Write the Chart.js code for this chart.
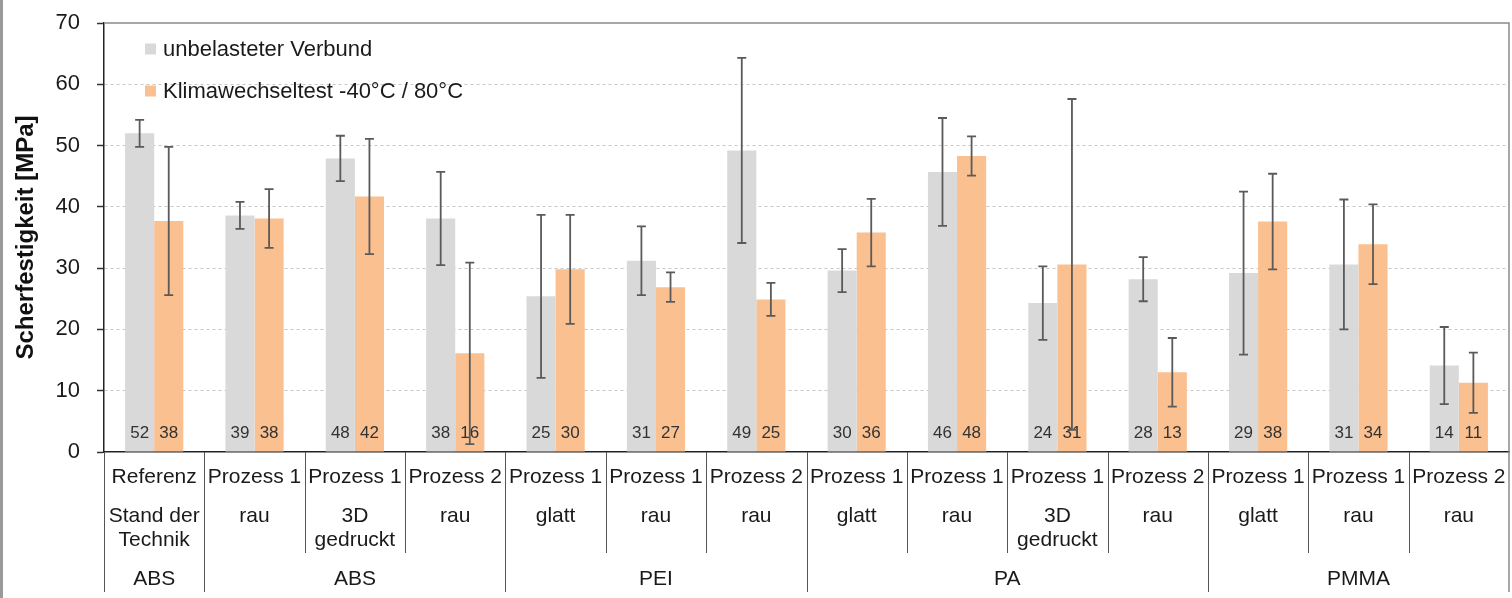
<!DOCTYPE html>
<html>
<head>
<meta charset="utf-8">
<script src="https://cdn.jsdelivr.net/npm/chart.js@4.4.1/dist/chart.umd.min.js"></script>
<style>
  html, body { margin: 0; padding: 0; background: #fff; }
  #wrap { width: 1512px; height: 598px; position: relative; }
</style>
</head>
<body>
<div id="wrap"><canvas id="myChart" width="1512" height="598"></canvas></div>
<script>
// Daten
const processLabels = ['Referenz', 'Prozess 1', 'Prozess 1', 'Prozess 2', 'Prozess 1', 'Prozess 1', 'Prozess 2',
                       'Prozess 1', 'Prozess 1', 'Prozess 1', 'Prozess 2', 'Prozess 1', 'Prozess 1', 'Prozess 2'];
const surfaceLabels = [['Stand der', 'Technik'], ['rau'], ['3D', 'gedruckt'], ['rau'], ['glatt'], ['rau'], ['rau'],
                       ['glatt'], ['rau'], ['3D', 'gedruckt'], ['rau'], ['glatt'], ['rau'], ['rau']];
const materialGroups = [
  { label: 'ABS', from: 0, to: 0 },
  { label: 'ABS', from: 1, to: 3 },
  { label: 'PEI', from: 4, to: 6 },
  { label: 'PA', from: 7, to: 10 },
  { label: 'PMMA', from: 11, to: 13 }
];
const seriesNames = ['unbelasteter Verbund', 'Klimawechseltest -40°C / 80°C'];
const unbelastet = [52.0, 38.6, 47.9, 38.1, 25.4, 31.2, 49.2, 29.6, 45.7, 24.3, 28.2, 29.2, 30.6, 14.1];
const unbelastetErr = [2.2, 2.2, 3.7, 7.6, 13.3, 5.6, 15.1, 3.5, 8.8, 6.0, 3.6, 13.3, 10.6, 6.3];
const klimawechsel = [37.7, 38.1, 41.7, 16.1, 29.8, 26.9, 24.9, 35.8, 48.3, 30.6, 13.0, 37.6, 33.9, 11.3];
const klimawechselErr = [12.1, 4.8, 9.4, 14.8, 8.9, 2.4, 2.7, 5.5, 3.2, 27.0, 5.6, 7.8, 6.5, 4.9];
const yTicks = [0, 10, 20, 30, 40, 50, 60, 70];

const FONT = '"Liberation Sans", Arial, sans-serif';
const errors = [unbelastetErr, klimawechselErr];

// Fehlerbalken und Werte an der Basis der Balken
const barExtras = {
  id: 'barExtras',
  afterDatasetsDraw(chart) {
    const ctx = chart.ctx;
    const y = chart.scales.y;
    chart.data.datasets.forEach((ds, d) => {
      const meta = chart.getDatasetMeta(d);
      meta.data.forEach((bar, i) => {
        const v = ds.data[i];
        ctx.save();
        ctx.fillStyle = '#333';
        ctx.font = '17px ' + FONT;
        ctx.textAlign = 'center';
        ctx.textBaseline = 'middle';
        ctx.fillText(String(Math.round(v)), bar.x, 433);
        ctx.restore();

        const e = errors[d][i];
        const yHi = y.getPixelForValue(v + e);
        const yLo = y.getPixelForValue(Math.max(0, v - e));
        ctx.save();
        ctx.strokeStyle = '#5a5a5a';
        ctx.lineWidth = 1.8;
        ctx.beginPath();
        ctx.moveTo(bar.x, yHi); ctx.lineTo(bar.x, yLo);
        ctx.moveTo(bar.x - 4.5, yHi); ctx.lineTo(bar.x + 4.5, yHi);
        ctx.moveTo(bar.x - 4.5, yLo); ctx.lineTo(bar.x + 4.5, yLo);
        ctx.stroke();
        ctx.restore();
      });
    });
  }
};

// Rahmen, Legende und mehrzeilige Achsenbeschriftung
const frameAndTable = {
  id: 'frameAndTable',
  beforeDraw(chart) {
    const ctx = chart.ctx;
    ctx.save();
    ctx.fillStyle = '#fff';
    ctx.fillRect(0, 0, chart.width, chart.height);
    ctx.strokeStyle = '#9a9a9a';
    ctx.lineWidth = 3;
    ctx.beginPath();
    ctx.moveTo(1.5, 0); ctx.lineTo(1.5, chart.height);
    ctx.stroke();
    ctx.restore();
  },
  afterDraw(chart) {
    const ctx = chart.ctx;
    const area = chart.chartArea;
    const n = processLabels.length;
    const step = (area.right - area.left) / n;
    const tableBottom = 592;
    const innerBottom = 553;

    ctx.save();
    // oberer und rechter Rand
    ctx.strokeStyle = '#8a8a8a';
    ctx.lineWidth = 1.5;
    ctx.beginPath();
    ctx.moveTo(area.left, area.top); ctx.lineTo(area.right, area.top);
    ctx.lineTo(area.right, tableBottom);
    ctx.stroke();

    // Trennlinien
    const groupStarts = materialGroups.map(g => g.from).concat([n]);
    ctx.strokeStyle = '#555';
    ctx.lineWidth = 1;
    for (let i = 0; i < n; i++) {
      const xb = Math.round(area.left + i * step) + 0.5;
      ctx.beginPath();
      ctx.moveTo(xb, area.bottom);
      ctx.lineTo(xb, groupStarts.includes(i) ? tableBottom : innerBottom);
      ctx.stroke();
    }

    // Beschriftungen
    ctx.fillStyle = '#1a1a1a';
    ctx.font = '21px ' + FONT;
    ctx.textAlign = 'center';
    ctx.textBaseline = 'middle';
    for (let i = 0; i < n; i++) {
      const xc = chart.scales.x.getPixelForValue(i);
      ctx.fillText(processLabels[i], xc, 477);
      surfaceLabels[i].forEach((line, k) => ctx.fillText(line, xc, 516 + k * 24));
    }
    materialGroups.forEach(g => {
      const xc = area.left + ((g.from + g.to + 1) / 2) * step;
      ctx.fillText(g.label, xc, 579);
    });

    // Legende
    ctx.font = '22px ' + FONT;
    ctx.textAlign = 'left';
    chart.data.datasets.forEach((ds, d) => {
      const yc = 49 + d * 42;
      ctx.fillStyle = ds.backgroundColor;
      ctx.fillRect(145, yc - 5.5, 11, 11);
      ctx.fillStyle = '#1a1a1a';
      ctx.fillText(ds.label, 163, yc + 1);
    });
    ctx.restore();
  }
};

const ctx = document.getElementById('myChart').getContext('2d');
const myChart = new Chart(ctx, {
  type: 'bar',
  data: {
    labels: processLabels,
    datasets: [
      { label: seriesNames[0], data: unbelastet, backgroundColor: '#d9d9d9', borderWidth: 0 },
      { label: seriesNames[1], data: klimawechsel, backgroundColor: '#fac090', borderWidth: 0 }
    ]
  },
  options: {
    responsive: false,
    animation: false,
    layout: { padding: { top: 23, right: 3, bottom: 146, left: 0 } },
    datasets: { bar: { categoryPercentage: 0.58, barPercentage: 1.0 } },
    plugins: { legend: { display: false }, tooltip: { enabled: false }, title: { display: false } },
    scales: {
      x: {
        ticks: { display: false },
        grid: { display: false, drawTicks: false },
        border: { display: true, color: '#222', width: 1.5 }
      },
      y: {
        min: 0,
        max: 70,
        afterFit(scale) {
          scale.width = 104;
          scale.paddingTop = 0;
          scale.paddingBottom = 0;
        },
        afterBuildTicks(scale) { scale.ticks = yTicks.map(v => ({ value: v })); },
        ticks: { stepSize: 10, padding: 17, color: '#1a1a1a', font: { family: FONT, size: 22 } },
        grid: {
          color: c => (c.tick && (c.tick.value === 0 || c.tick.value === 70)) ? 'rgba(0,0,0,0)' : '#c8c8c8',
          lineWidth: 1,
          tickLength: 7,
          tickColor: '#333',
          tickWidth: 1.5,
          tickBorderDash: []
        },
        border: { display: true, color: '#222', width: 1.5, dash: [3, 3] },
        title: {
          display: true,
          text: 'Scherfestigkeit [MPa]',
          color: '#111',
          font: { family: FONT, size: 24, weight: 'bold' },
          padding: { top: 12, bottom: 0 }
        }
      }
    }
  },
  plugins: [barExtras, frameAndTable]
});
</script>
</body>
</html>
